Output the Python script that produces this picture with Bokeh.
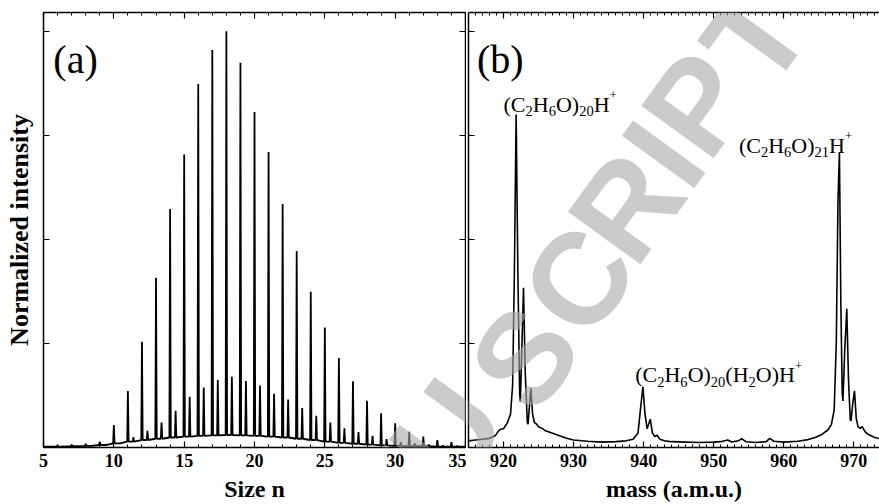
import numpy as np
from bokeh.plotting import figure
from bokeh.layouts import row
from bokeh.models import Range1d, LinearAxis, FixedTicker, Label
from bokeh.embed import file_html
from bokeh.resources import INLINE

# ---------------- data: panel (a) ----------------
sizes = list(range(6, 35))
# intensity of pure ethanol cluster peaks (C2H6O)nH+
main_peak = [0.006, 0.007, 0.009, 0.014, 0.054, 0.136, 0.254, 0.408, 0.573, 0.704,
             0.873, 0.955, 1.000, 0.924, 0.806, 0.710, 0.585, 0.472, 0.374, 0.288,
             0.215, 0.159, 0.112, 0.082, 0.058, 0.038, 0.026, 0.018, 0.013]
# intensity of the mixed (C2H6O)n(H2O)H+ peaks (located at n + 18/46)
mixed_peak = [0.003, 0.003, 0.004, 0.006, 0.010, 0.025, 0.040, 0.060, 0.088, 0.122,
              0.144, 0.162, 0.170, 0.160, 0.149, 0.129, 0.115, 0.095, 0.076, 0.060,
              0.046, 0.037, 0.028, 0.020, 0.013, 0.010, 0.007, 0.005, 0.004]
# background level of the spectrum near each size
baseline = [0.002, 0.003, 0.004, 0.006, 0.010, 0.014, 0.018, 0.021, 0.024, 0.026,
            0.028, 0.029, 0.030, 0.029, 0.028, 0.026, 0.024, 0.021, 0.018, 0.014,
            0.011, 0.009, 0.007, 0.005, 0.004, 0.003, 0.003, 0.002, 0.002]
size_ticks = [5, 10, 15, 20, 25, 30, 35]
mixed_shift = 18.0 / 46.0

# ---------------- data: panel (b) ----------------
mass = [915.0, 916.0, 917.0, 918.0, 918.8, 919.3, 919.6, 920.0, 920.5, 921.0,
        921.3, 921.55, 921.8, 922.05, 922.3, 922.4, 922.6, 922.85, 923.1, 923.4,
        923.5, 923.7, 923.9, 924.15, 924.4, 924.6, 925.0, 925.5, 926.0, 927.0,
        928.0, 929.0, 930.0, 932.0, 934.0, 936.0, 937.5, 938.5, 939.2, 939.6,
        939.9, 940.2, 940.5, 940.7, 940.95, 941.25, 941.6, 941.9, 942.3, 943.0,
        944.0, 946.0, 948.0, 950.0, 951.0, 952.0, 952.6, 953.5, 954.0, 954.6,
        956.0, 957.5, 958.0, 958.6, 960.0, 962.0, 963.5, 964.5, 965.5, 966.3,
        966.8, 967.2, 967.5, 967.75, 967.95, 968.15, 968.35, 968.45, 968.7, 969.0,
        969.25, 969.5, 969.6, 969.85, 970.1, 970.35, 970.6, 970.9, 971.2, 971.6,
        972.0, 973.0, 974.0]
intensity = [0.016, 0.018, 0.020, 0.022, 0.028, 0.040, 0.044, 0.045, 0.058, 0.080,
             0.150, 0.420, 0.800, 0.420, 0.130, 0.110, 0.230, 0.384, 0.180, 0.060,
             0.056, 0.100, 0.142, 0.080, 0.060, 0.058, 0.050, 0.046, 0.040, 0.034,
             0.028, 0.022, 0.018, 0.015, 0.013, 0.014, 0.016, 0.020, 0.035, 0.100,
             0.146, 0.080, 0.045, 0.055, 0.068, 0.035, 0.026, 0.030, 0.020, 0.016,
             0.014, 0.013, 0.012, 0.013, 0.014, 0.018, 0.013, 0.016, 0.021, 0.014,
             0.012, 0.014, 0.022, 0.015, 0.013, 0.015, 0.019, 0.024, 0.032, 0.042,
             0.055, 0.090, 0.250, 0.600, 0.709, 0.350, 0.130, 0.112, 0.230, 0.333,
             0.160, 0.066, 0.064, 0.105, 0.136, 0.070, 0.050, 0.046, 0.050, 0.038,
             0.032, 0.024, 0.020]
mass_ticks = [920, 930, 940, 950, 960, 970]
y_ticks = [0, 0.25, 0.5, 0.75, 1.0]

SERIF = "Liberation Serif"

# page geometry of the two plot frames (pixels)
FRAME_TOP, FRAME_BOTTOM = 12, 451
A_LEFT, A_RIGHT = 43, 465
B_LEFT, B_RIGHT = 468, 879
A_X = (5, 35)
B_X = (915, 973.67)
Y_MAX = 1.045


def style_axis(ax, show_labels=True):
    ax.axis_line_color = "black"
    ax.axis_line_width = 1.5
    ax.major_tick_in = 6
    ax.major_tick_out = 0
    ax.minor_tick_in = 3
    ax.minor_tick_out = 0
    ax.major_tick_line_color = "black"
    ax.minor_tick_line_color = "black"
    ax.major_tick_line_width = 1.2
    ax.minor_tick_line_width = 1
    ax.major_label_text_font = SERIF
    ax.major_label_text_font_style = "bold"
    ax.axis_label_text_font = SERIF
    ax.axis_label_text_font_style = "bold"
    ax.axis_label_text_font_size = "24px"
    ax.axis_label_text_color = "black"
    if show_labels:
        ax.major_label_text_color = "black"
        ax.major_label_text_font_size = "18px"
        ax.major_label_standoff = 6
    else:
        # tick marks only: the labels are not painted
        ax.major_label_text_color = None
        ax.major_label_text_font_size = "1px"
        ax.major_label_standoff = 0


def make_fig(width, x_range, left_border, right_border):
    p = figure(width=width, height=504, x_range=Range1d(*x_range), y_range=Range1d(0, Y_MAX),
               output_backend="svg", toolbar_location=None,
               min_border_left=left_border, min_border_right=right_border,
               min_border_top=FRAME_TOP, min_border_bottom=504 - FRAME_BOTTOM)
    p.xgrid.visible = False
    p.ygrid.visible = False
    p.outline_line_color = None
    p.background_fill_color = "white"
    p.border_fill_color = "white"
    return p


# watermark letters and their centres on the page (pixels)
WM = [("N", 398, 505), ("U", 447, 438), ("S", 524, 360), ("C", 578, 282),
      ("R", 626, 208), ("I", 663, 155), ("P", 697, 104), ("T", 755, 36)]


def add_watermark(p, left, right, xr, letters):
    for ch, px, py in WM:
        if ch not in letters:
            continue
        ax_ = min(max(px, left + 2), right - 2)
        ay_ = min(max(py, FRAME_TOP + 2), FRAME_BOTTOM - 2)
        xd = xr[0] + (ax_ - left) * (xr[1] - xr[0]) / (right - left)
        yd = (FRAME_BOTTOM - ay_) * Y_MAX / (FRAME_BOTTOM - FRAME_TOP)
        p.add_layout(Label(x=xd, y=yd, x_offset=px - ax_, y_offset=-(py - ay_),
                           text=ch, angle=54, angle_units="deg",
                           text_font="Liberation Sans", text_font_style="bold",
                           text_font_size="130px", text_color="#a8a8a8", text_alpha=0.6,
                           text_align="center", text_baseline="middle"))


# Times-like advance widths (em) for the formula labels
ADV = {"(": 0.333, ")": 0.333, "C": 0.667, "H": 0.722, "O": 0.722,
       "0": 0.5, "1": 0.5, "2": 0.5, "6": 0.5, "+": 0.564}


def formula(p, x, y, parts, size=22):
    off = 0.0
    for txt, role in parts:
        if role == "n":
            fs, dy = size, 0
        elif role == "sub":
            fs, dy = size * 0.66, -7
        else:
            fs, dy = size * 0.58, 9
        p.add_layout(Label(x=x, y=y, x_offset=off, y_offset=dy, text=txt,
                           text_font=SERIF, text_font_size=f"{fs:.1f}px",
                           text_align="left", text_baseline="alphabetic",
                           text_color="black"))
        off += sum(ADV[c] for c in txt) * fs


# ---------------- panel (a) ----------------
pa = make_fig(466, A_X, A_LEFT, 466 - A_RIGHT)
w = 0.05
xs, ys = [5.0], [baseline[0]]
for n, h, m, b in zip(sizes, main_peak, mixed_peak, baseline):
    xs += [n - w, n, n + w, n + mixed_shift - w, n + mixed_shift, n + mixed_shift + w]
    ys += [b, h, b, b, m, b]
xs.append(35.0)
ys.append(baseline[-1])
pa.line(xs, ys, line_color="black", line_width=1.8)

x_tick_a = FixedTicker(ticks=size_ticks, minor_ticks=list(range(5, 36)))
y_tick = FixedTicker(ticks=y_ticks, minor_ticks=[])
pa.xaxis.ticker = x_tick_a
pa.yaxis.ticker = y_tick
style_axis(pa.xaxis[0])
style_axis(pa.yaxis[0], show_labels=False)
pa.xaxis.axis_label = "Size n"
pa.xaxis.axis_label_standoff = 6
pa.yaxis.axis_label = "Normalized intensity"
pa.yaxis.axis_label_text_font_size = "26px"
pa.yaxis.axis_label_standoff = 10
top_a = LinearAxis(ticker=x_tick_a)
style_axis(top_a, show_labels=False)
pa.add_layout(top_a, "above")
right_a = LinearAxis(ticker=y_tick)
style_axis(right_a, show_labels=False)
pa.add_layout(right_a, "right")
pa.add_layout(Label(x=5.7, y=0.933, text="(a)", text_font=SERIF, text_font_size="40px",
                    text_baseline="alphabetic", text_color="black"))

# ---------------- panel (b) ----------------
pb = make_fig(879 - 466, B_X, B_LEFT - 466, 0)
pb.line(mass, intensity, line_color="black", line_width=1.6)
x_tick_b = FixedTicker(ticks=mass_ticks, minor_ticks=list(range(915, 975)))
pb.xaxis.ticker = x_tick_b
pb.yaxis.ticker = y_tick
style_axis(pb.xaxis[0])
style_axis(pb.yaxis[0], show_labels=False)
pb.xaxis.axis_label = "mass (a.m.u.)"
pb.xaxis.axis_label_standoff = 6
top_b = LinearAxis(ticker=x_tick_b)
style_axis(top_b, show_labels=False)
pb.add_layout(top_b, "above")
pb.add_layout(Label(x=916.2, y=0.933, text="(b)", text_font=SERIF, text_font_size="40px",
                    text_baseline="alphabetic", text_color="black"))

formula(pb, 920.0, 0.825, [("(C", "n"), ("2", "sub"), ("H", "n"), ("6", "sub"),
                           ("O)", "n"), ("20", "sub"), ("H", "n"), ("+", "sup")])
formula(pb, 953.6, 0.726, [("(C", "n"), ("2", "sub"), ("H", "n"), ("6", "sub"),
                           ("O)", "n"), ("21", "sub"), ("H", "n"), ("+", "sup")])
formula(pb, 938.8, 0.175, [("(C", "n"), ("2", "sub"), ("H", "n"), ("6", "sub"),
                           ("O)", "n"), ("20", "sub"), ("(H", "n"), ("2", "sub"),
                           ("O)H", "n"), ("+", "sup")])

# watermark, split between the two panels at the same page position
add_watermark(pa, A_LEFT, A_RIGHT, A_X, "NU")
add_watermark(pb, B_LEFT, B_RIGHT, B_X, "USCRIPT")

layout = row(pa, pb)
open("out.html", "w").write(file_html(layout, INLINE))
